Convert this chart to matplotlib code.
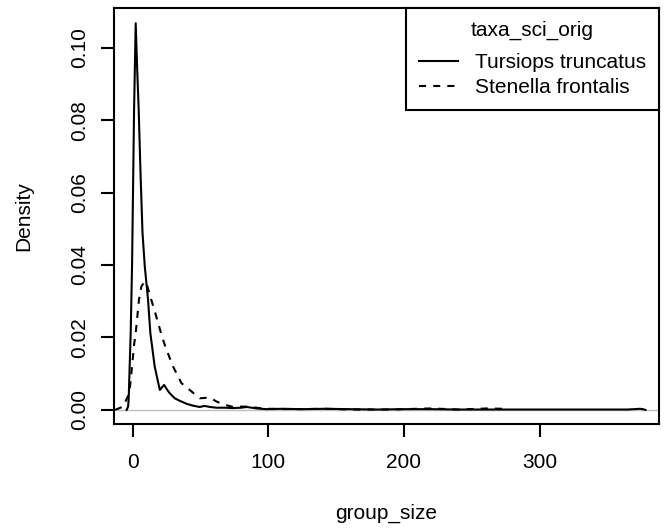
import matplotlib.pyplot as plt

# density curves (group_size -> density)
tursiops_x = [-4.5, -3.4, -3.0, -1.5, -0.5, 0.1, 1.0, 2.2, 3.3, 4.4, 5.7, 7.2, 8.9, 11.3,
              13.0, 16.2, 18.5, 20.0, 23.1, 25.5, 27.3, 31.0, 34.7, 39.6, 44.0,
              49.4, 53.0, 57.0, 61.8, 68.0, 73.8, 80.0, 84.0, 91.3, 98.6, 110.0,
              125.0, 142.0, 160.0, 180.0, 200.0, 220.0, 240.0, 263.0, 290.0,
              320.0, 350.0, 365.0, 374.0, 376.0, 378.0]
tursiops_y = [0.0, 0.0009, 0.0028, 0.0212, 0.0396, 0.057, 0.0829, 0.1068, 0.094, 0.0829,
              0.066, 0.049, 0.0396, 0.0304, 0.0212, 0.012, 0.008, 0.0055, 0.0069, 0.0055,
              0.0046, 0.0032, 0.0025, 0.0017, 0.0012, 0.0008, 0.0011, 0.0008,
              0.0006, 0.0006, 0.0005, 0.0006, 0.0008, 0.0004, 0.0002, 0.0003,
              0.0002, 0.0003, 0.0002, 0.0001, 0.0002, 0.0002, 0.0001, 0.0001,
              0.0001, 0.0001, 0.0001, 0.0001, 0.0003, 0.0002, 0.0]

stenella_x = [-13.0, -7.1, -2.5, -0.5, 1.0, 2.2, 4.6, 6.4, 8.9, 10.5, 13.7, 17.2,
              21.0, 24.0, 29.7, 35.9, 42.0, 49.4, 56.8, 61.8, 68.0, 74.0, 80.0,
              86.0, 93.0, 100.0, 120.0, 142.0, 160.0, 190.0, 220.0, 240.0, 262.0,
              273.0, 276.0]
stenella_y = [0.0, 0.0009, 0.0046, 0.012, 0.018, 0.0212, 0.0304, 0.0341, 0.0355,
              0.0345, 0.0304, 0.026, 0.021, 0.0175, 0.012, 0.0074, 0.0055, 0.0032,
              0.0034, 0.0023, 0.0014, 0.0008, 0.0009, 0.0009, 0.0005, 0.0003,
              0.0002, 0.0003, 0.0001, 0.0001, 0.0004, 0.0001, 0.0004, 0.0003, 0.0]

series_labels = ['Tursiops truncatus', 'Stenella frontalis']
x_ticks = [0, 100, 200, 300]
y_ticks = [0.00, 0.02, 0.04, 0.06, 0.08, 0.10]

plt.rcParams['font.family'] = ['Liberation Sans', 'DejaVu Sans']
plt.rcParams['font.size'] = 15

fig = plt.figure(figsize=(6.71, 5.31), dpi=100)
ax = fig.add_axes([114 / 671, 1 - 424 / 531, 545 / 671, 416 / 531])

ax.axhline(0, color='#bebebe', lw=1.0, zorder=1)
ax.plot(tursiops_x, tursiops_y, color='black', lw=1.5, label=series_labels[0])
ax.plot(stenella_x, stenella_y, color='black', lw=1.5, dashes=(3.4, 3.4),
        label=series_labels[1])

ax.set_xlim(-13.8, 388)
ax.set_ylim(-0.0039, 0.111)

ax.set_xticks(x_ticks)
ax.set_xticklabels([str(t) for t in x_ticks])
ax.set_yticks(y_ticks)
ax.set_yticklabels(['%.2f' % t for t in y_ticks], rotation=90, va='center')
ax.tick_params(direction='out', length=9.4, width=1.5)
ax.tick_params(axis='x', pad=11.5)
ax.tick_params(axis='y', pad=8.5)
for s in ax.spines.values():
    s.set_linewidth(1.5)

ax.set_xlabel('group_size', va='center')
ax.xaxis.set_label_coords(0.5, (424 - 513) / 416)
ax.set_ylabel('Density', va='center')
ax.yaxis.set_label_coords((24 - 114) / 545, 0.5)

leg = ax.legend(loc='upper right', borderaxespad=0, title='taxa_sci_orig',
                fancybox=False, edgecolor='black', framealpha=1,
                handlelength=1.9, handletextpad=0.8, borderpad=0.62,
                labelspacing=0.3, alignment='center')
leg.get_frame().set_linewidth(1.5)
leg._legend_box.sep = 9.2  # a bit more room under the title, like R

fig.savefig('out.png', dpi=100)
